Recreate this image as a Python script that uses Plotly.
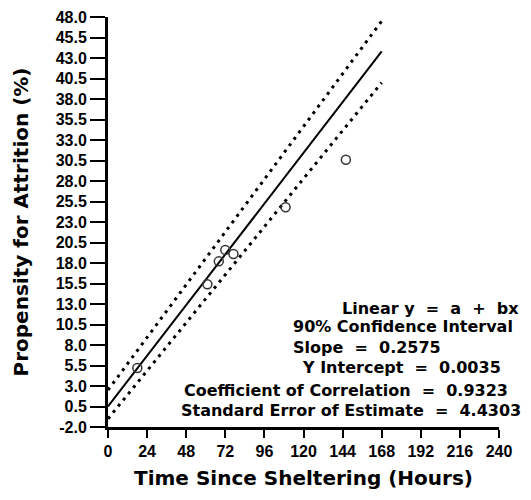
import plotly.graph_objects as go

# observed points (hours since sheltering, propensity %)
hours = [18, 61, 68, 72, 77, 109, 146]
propensity = [5.2, 15.4, 18.2, 19.6, 19.1, 24.8, 30.6]

# regression line and 90% confidence limits
fit_x = [0, 168]
fit_y = [0.5, 43.8]
upper_y = [2.5, 47.5]
lower_y = [-1.0, 40.0]

x_ticks = [0, 24, 48, 72, 96, 120, 144, 168, 192, 216, 240]
y_ticks = [48.0, 45.5, 43.0, 40.5, 38.0, 35.5, 33.0, 30.5, 28.0, 25.5, 23.0,
           20.5, 18.0, 15.5, 13.0, 10.5, 8.0, 5.5, 3.0, 0.5, -2.0]
y_labels = ['%.1f' % v for v in y_ticks]

stats = [
    'Linear y  =  a  +  bx',
    '90% Confidence Interval',
    'Slope  =  0.2575',
    'Y Intercept  =  0.0035',
    'Coefficient of Correlation  =  0.9323',
    'Standard Error of Estimate  =  4.4303',
]

fig = go.Figure()

fig.add_trace(go.Scatter(x=fit_x, y=upper_y, mode='lines',
                         line=dict(color='black', width=3, dash='3px,5px')))
fig.add_trace(go.Scatter(x=fit_x, y=lower_y, mode='lines',
                         line=dict(color='black', width=3, dash='3px,5px')))
fig.add_trace(go.Scatter(x=fit_x, y=fit_y, mode='lines',
                         line=dict(color='black', width=2)))
fig.add_trace(go.Scatter(x=hours, y=propensity, mode='markers',
                         marker=dict(symbol='circle-open', size=9, color='#333',
                                     line=dict(width=1.5))))

# stats block, left positions in paper coords
pos = [(0.593, 0.290), (0.468, 0.244), (0.468, 0.193),
       (0.490, 0.145), (0.189, 0.089), (0.182, 0.041)]
for txt, (px, py) in zip(stats, pos):
    fig.add_annotation(text=txt, xref='paper', yref='paper', x=px, y=py,
                       xanchor='left', yanchor='middle', showarrow=False,
                       font=dict(family='DejaVu Sans', size=16, color='black', weight='bold'))

tick_font = dict(family='Liberation Sans', size=16, color='black', weight='bold')
title_font = dict(family='DejaVu Sans', size=20, color='black', weight='bold')

# page body has an 8px margin, so the figure is sized to fit the window
fig.update_layout(
    width=523, height=492,
    margin=dict(l=100, r=32, t=9, b=73),
    paper_bgcolor='white', plot_bgcolor='white',
    showlegend=False,
    xaxis=dict(range=[0, 240], tickvals=x_ticks, ticks='outside', ticklen=8,
               tickwidth=2, tickcolor='black', showline=True, linewidth=3,
               linecolor='black', showgrid=False, zeroline=False, automargin=False,
               tickfont=tick_font, ticklabeloverflow='allow',
               title=dict(text='Time Since Sheltering (Hours)', font=title_font, standoff=12)),
    yaxis=dict(range=[-2, 48], tickvals=y_ticks, ticktext=y_labels, ticks='outside',
               ticklen=15, tickwidth=2, tickcolor='black', showline=True, linewidth=3,
               linecolor='black', showgrid=False, zeroline=False, automargin=False,
               tickfont=tick_font, ticklabeloverflow='allow',
               title=dict(text='Propensity for Attrition (%)', font=title_font, standoff=22)),
)

fig.write_html('out.html')
